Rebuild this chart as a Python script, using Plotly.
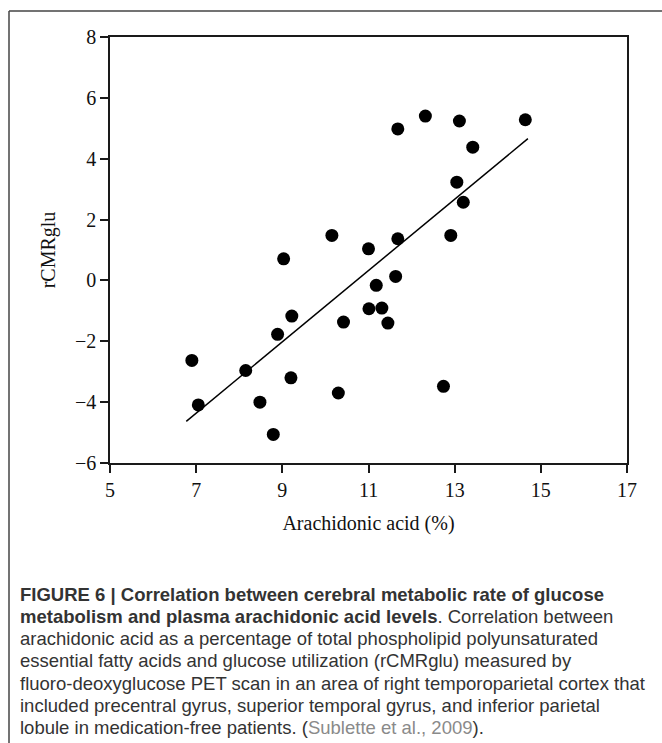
import plotly.graph_objects as go

# Data
arachidonic_pct = [6.90, 7.05, 8.15, 8.48, 8.79, 8.89, 9.03, 9.22, 9.20,
                   11.68, 12.32, 13.11, 14.64, 13.42, 13.05, 13.20,
                   10.15, 11.00, 11.68, 12.91, 11.63, 11.18,
                   11.01, 11.31, 10.42, 11.45, 10.30, 12.74]
rcmrglu = [-2.63, -4.09, -2.96, -4.00, -5.06, -1.77, 0.71, -1.17, -3.20,
           4.98, 5.40, 5.24, 5.28, 4.38, 3.23, 2.57,
           1.48, 1.04, 1.37, 1.48, 0.13, -0.16,
           -0.93, -0.91, -1.37, -1.40, -3.70, -3.48]
fit_x = [6.77, 14.70]
fit_y = [-4.63, 4.66]
x_ticks = [5, 7, 9, 11, 13, 15, 17]
y_ticks = [-6, -4, -2, 0, 2, 4, 6, 8]

caption_lines = [
    "<b>FIGURE 6 | Correlation between cerebral metabolic rate of glucose</b>",
    "<b>metabolism and plasma arachidonic acid levels</b>. Correlation between",
    "arachidonic acid as a percentage of total phospholipid polyunsaturated",
    "essential fatty acids and glucose utilization (rCMRglu) measured by",
    "fluoro-deoxyglucose PET scan in an area of right temporoparietal cortex that",
    "included precentral gyrus, superior temporal gyrus, and inferior parietal",
    "lobule in medication-free patients. (<span style='color:#8a8a8a'>Sublette et al., 2009</span>).",
]

W, H = 662, 743
L, R, T, B = 110, 35, 37, 280
PW, PH = W - L - R, H - T - B


def px(x):
    return (x - L) / PW


def py(y):
    return (H - B - y) / PH


fig = go.Figure()
fig.add_trace(go.Scatter(x=fit_x, y=fit_y, mode="lines",
                         line=dict(color="black", width=1.5),
                         showlegend=False, hoverinfo="skip"))
fig.add_trace(go.Scatter(x=arachidonic_pct, y=rcmrglu, mode="markers",
                         marker=dict(color="black", size=13),
                         showlegend=False))

serif = "Liberation Serif, Times New Roman, serif"
axis_common = dict(showline=True, linecolor="#1a1a1a", linewidth=1.5,
                   mirror=True, ticks="outside", ticklen=8, tickwidth=1.5,
                   tickcolor="#1a1a1a", showgrid=False, zeroline=False,
                   tickfont=dict(family=serif, size=20, color="#111"))

fig.update_xaxes(range=[5, 17], tickvals=x_ticks,
                 title=dict(text="Arachidonic acid (%)",
                            font=dict(family=serif, size=20, color="#111"),
                            standoff=16),
                 **axis_common)
fig.update_yaxes(range=[-6, 8], tickvals=y_ticks,
                 title=dict(text="rCMRglu",
                            font=dict(family=serif, size=20, color="#111"),
                            standoff=14),
                 **axis_common)

# outer frame of the figure panel
fig.add_shape(type="line", xref="paper", yref="paper",
              x0=px(9), x1=px(W + 5), y0=py(11), y1=py(11),
              line=dict(color="#444", width=1.5))
fig.add_shape(type="line", xref="paper", yref="paper",
              x0=px(9), x1=px(9), y0=py(11), y1=py(H + 5),
              line=dict(color="#444", width=1.5))

cap_top = 594
cap_step = 22.3
for i, line in enumerate(caption_lines):
    fig.add_annotation(xref="paper", yref="paper", x=px(18), y=py(cap_top + i * cap_step),
                       xanchor="left", yanchor="middle", showarrow=False,
                       text=line, align="left",
                       font=dict(family="Liberation Sans, Arial, sans-serif",
                                 size=18.5, color="#333"))

fig.update_layout(width=W, height=H,
                  margin=dict(l=L, r=R, t=T, b=B),
                  plot_bgcolor="white", paper_bgcolor="white")

fig.write_html("out.html")
